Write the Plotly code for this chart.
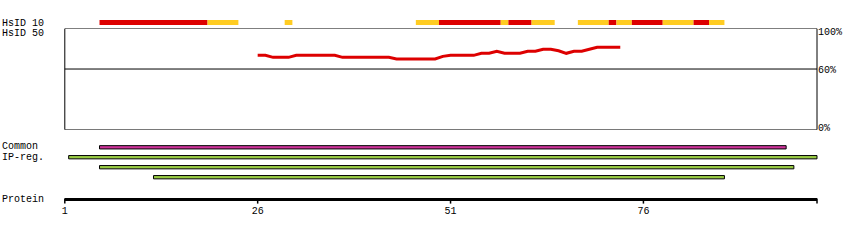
import plotly.graph_objects as go

# ---------------- data ----------------
RESIDUE_TICKS = [1, 26, 51, 76]
AXIS_START = 1
AXIS_END = 98.5

# HsID 10 conservation segments (residue ranges, inclusive)
HSID10_START = [6, 20, 30, 47, 50, 58, 59, 62, 68, 72, 73, 75, 79, 83, 85]
HSID10_END = [19, 23, 30, 49, 57, 58, 61, 64, 71, 72, 74, 78, 82, 84, 86]
HSID10_CLASS = ["high", "mid", "mid", "mid", "high", "mid", "high", "mid",
                "mid", "high", "mid", "high", "mid", "high", "mid"]

# HsID 50 identity profile (%)
HSID50_RESIDUE = list(range(26, 74))
HSID50_PCT = [73.5, 73.5, 71.5, 71.5, 71.5, 73.5, 73.5, 73.5, 73.5, 73.5,
              73.5, 71.5, 71.5, 71.5, 71.5, 71.5, 71.5, 71.5, 70, 70,
              70, 70, 70, 70, 72.5, 73.5, 73.5, 73.5, 73.5, 75.5,
              75.5, 77.5, 75.5, 75.5, 75.5, 77.5, 77.5, 79.5, 79.5, 78,
              75.5, 77.5, 77.5, 79.5, 81.5, 81.5, 81.5, 81.5]

COMMON_START = [6]
COMMON_END = [94]
IPREG_START = [2, 6, 13]
IPREG_END = [98, 95, 86]

PCT_TICKS = [100, 60, 0]
PCT_LABELS = ["100%", "60%", "0%"]

# ---------------- layout constants ----------------
W, H = 850, 240
LEFT_PX = 64.8
PX_PER_RES = 7.715
X_RANGE = [AXIS_START - LEFT_PX / PX_PER_RES,
           AXIS_START + (W - LEFT_PX) / PX_PER_RES]
BOX_TOP, BOX_BOT = 28.5, 129.8
FONT = dict(family="Liberation Mono, DejaVu Sans Mono, monospace", size=10, color="black")

RED, YELLOW = "#dd0000", "#ffcc22"
MAGENTA, GREEN = "#cc3399", "#99cc44"

HSID10_Y = 22.5
COMMON_Y = 147.3
IPREG_Y = [157.2, 167.2, 177.2]
PROTEIN_Y = 199.6

fig = go.Figure()

# HsID 10 segments
fig.add_trace(go.Bar(
    orientation="h",
    base=[s - 0.5 for s in HSID10_START],
    x=[e - s + 1 for s, e in zip(HSID10_START, HSID10_END)],
    y=[HSID10_Y] * len(HSID10_START),
    width=5,
    marker=dict(color=[RED if c == "high" else YELLOW for c in HSID10_CLASS],
                line=dict(width=0)),
    hoverinfo="skip", showlegend=False))

# Common
fig.add_trace(go.Bar(
    orientation="h",
    base=[s - 0.5 for s in COMMON_START],
    x=[e - s + 1 for s, e in zip(COMMON_START, COMMON_END)],
    y=[COMMON_Y] * len(COMMON_START),
    width=3.3,
    marker=dict(color=MAGENTA, line=dict(color="black", width=1)),
    hoverinfo="skip", showlegend=False))

# IP-reg
fig.add_trace(go.Bar(
    orientation="h",
    base=[s - 0.5 for s in IPREG_START],
    x=[e - s + 1 for s, e in zip(IPREG_START, IPREG_END)],
    y=IPREG_Y,
    width=3.3,
    marker=dict(color=GREEN, line=dict(color="black", width=1)),
    hoverinfo="skip", showlegend=False))

# Protein axis line
fig.add_trace(go.Scatter(
    x=[AXIS_START, AXIS_END], y=[PROTEIN_Y, PROTEIN_Y], mode="lines",
    line=dict(color="black", width=3), hoverinfo="skip", showlegend=False))

# Ticks
tx, ty = [], []
for t in RESIDUE_TICKS + [AXIS_END]:
    tx += [t, t, None]
    ty += [PROTEIN_Y - 1, PROTEIN_Y + 4, None]
fig.add_trace(go.Scatter(
    x=tx, y=ty, mode="lines", line=dict(color="black", width=1.5),
    hoverinfo="skip", showlegend=False))

# Tick labels
fig.add_trace(go.Scatter(
    x=RESIDUE_TICKS, y=[211.7] * len(RESIDUE_TICKS), mode="text",
    text=[str(t) for t in RESIDUE_TICKS], textposition="middle center",
    textfont=FONT, hoverinfo="skip", showlegend=False))

# HsID 50 identity line
fig.add_trace(go.Scatter(
    x=HSID50_RESIDUE, y=HSID50_PCT, mode="lines",
    line=dict(color=RED, width=3), xaxis="x", yaxis="y2",
    hoverinfo="skip", showlegend=False))

shapes = [
    dict(type="rect", xref="x", yref="y2", x0=AXIS_START, x1=AXIS_END, y0=0, y1=100,
         line=dict(color="black", width=1), fillcolor="rgba(0,0,0,0)", layer="below"),
    dict(type="line", xref="x", yref="y2", x0=AXIS_START, x1=AXIS_END, y0=60, y1=60,
         line=dict(color="black", width=1), layer="below"),
]

annotations = []
for txt, yy in [("HsID 10", 23.0), ("HsID 50", 33.5), ("Common", 146.5),
                ("IP-reg.", 157.0), ("Protein", 199.7)]:
    annotations.append(dict(text=txt, xref="paper", yref="y", x=1 / W, y=yy,
                            xanchor="left", yanchor="middle", showarrow=False,
                            borderpad=0, font=FONT))
for v, lab, shift in zip(PCT_TICKS, PCT_LABELS, [-3.7, -1.8, 1.2]):
    annotations.append(dict(text=lab, xref="paper", yref="y2", x=817 / W, y=v,
                            xanchor="left", yanchor="middle", showarrow=False,
                            borderpad=0, yshift=shift, font=FONT))

fig.update_layout(
    width=W, height=H, autosize=False,
    margin=dict(l=0, r=0, t=0, b=0, pad=0),
    paper_bgcolor="white", plot_bgcolor="white",
    barmode="overlay",
    xaxis=dict(range=X_RANGE, domain=[0, 1], visible=False, fixedrange=True),
    yaxis=dict(range=[H, 0], domain=[0, 1], visible=False, fixedrange=True),
    yaxis2=dict(range=[0, 100], domain=[(H - BOX_BOT) / H, (H - BOX_TOP) / H],
                anchor="x", visible=False, fixedrange=True),
    shapes=shapes, annotations=annotations,
    font=FONT,
)

fig.write_html("out.html")
